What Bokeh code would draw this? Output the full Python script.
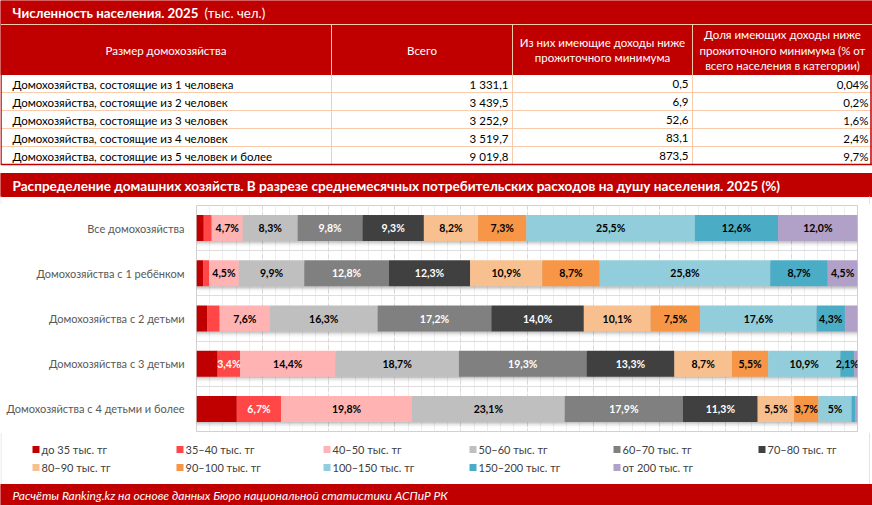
from bokeh.plotting import figure
from bokeh.layouts import column
from bokeh.models import (Range1d, FixedTicker, SingleIntervalTicker, Grid,
                          ColumnDataSource)
from bokeh.embed import file_html
from bokeh.resources import INLINE
from bokeh.core.properties import value

# ---------------- data ----------------
table_title = "Численность населения. 2025"
table_unit = "(тыс. чел.)"
table_headers = [
    ["Размер домохозяйства"],
    ["Всего"],
    ["Из них имеющие доходы ниже", "прожиточного минимума"],
    ["Доля имеющих доходы ниже", "прожиточного минимума (% от", "всего населения в категории)"],
]
household_sizes = [
    "Домохозяйства, состоящие из 1 человека",
    "Домохозяйства, состоящие из 2 человек",
    "Домохозяйства, состоящие из 3 человек",
    "Домохозяйства, состоящие из 4 человек",
    "Домохозяйства, состоящие из 5 человек и более",
]
population_total = [1331.1, 3439.5, 3252.9, 3519.7, 9019.8]
population_below_min = [0.5, 6.9, 52.6, 83.1, 873.5]
share_below_min = [0.04, 0.2, 1.6, 2.4, 9.7]

chart_title = ("Распределение домашних хозяйств. В разрезе среднемесячных "
               "потребительских расходов на душу населения. 2025 (%)")
household_groups = [
    "Все домохозяйства",
    "Домохозяйства с 1 ребёнком",
    "Домохозяйства с 2 детьми",
    "Домохозяйства с 3 детьми",
    "Домохозяйства с 4 детьми и более",
]
spending_brackets = [
    "до 35 тыс. тг", "35–40 тыс. тг", "40–50 тыс. тг", "50–60 тыс. тг",
    "60–70 тыс. тг", "70–80 тыс. тг", "80–90 тыс. тг", "90–100 тыс. тг",
    "100–150 тыс. тг", "150–200 тыс. тг", "от 200 тыс. тг",
]
# share of households (%) per bracket, one value per household group
up_to_35 = [1.1, 1.0, 1.6, 3.2, 6.1]
from_35_to_40 = [1.2, 0.9, 1.9, 3.4, 6.7]
from_40_to_50 = [4.7, 4.5, 7.6, 14.4, 19.8]
from_50_to_60 = [8.3, 9.9, 16.3, 18.7, 23.1]
from_60_to_70 = [9.8, 12.8, 17.2, 19.3, 17.9]
from_70_to_80 = [9.3, 12.3, 14.0, 13.3, 11.3]
from_80_to_90 = [8.2, 10.9, 10.1, 8.7, 5.5]
from_90_to_100 = [7.3, 8.7, 7.5, 5.5, 3.7]
from_100_to_150 = [25.5, 25.8, 17.6, 10.9, 5]
from_150_to_200 = [12.6, 8.7, 4.3, 2.1, 0.6]
over_200 = [12.0, 4.5, 1.9, 0.5, 0.3]
bracket_values = [up_to_35, from_35_to_40, from_40_to_50, from_50_to_60,
                  from_60_to_70, from_70_to_80, from_80_to_90, from_90_to_100,
                  from_100_to_150, from_150_to_200, over_200]

source_note = "Расчёты Ranking.kz на основе данных Бюро национальной статистики АСПиР РК"

# ---------------- styling ----------------
W = 872
RED = "#C00000"
PEACH = "#F8CBAD"
FONT = "Lato"
bracket_colors = ["#C00000", "#FF4747", "#FFB3B3", "#BFBFBF", "#808080",
                  "#404040", "#F9C08F", "#F79646", "#92CDDC", "#4BACC6", "#B1A0C7"]
white_label_brackets = {1, 4, 5}


def fmt_num(v):
    return f"{v:,.1f}".replace(",", " ").replace(".", ",")


def fmt_share(v):
    return f"{v:g}".replace(".", ",") + "%"


def fmt_pct(v):
    s = str(v) if isinstance(v, int) else f"{v:.1f}"
    return s.replace(".", ",") + "%"


def blank_figure(height):
    f = figure(width=W, height=height, x_range=Range1d(0, W),
               y_range=Range1d(height, 0), x_axis_type=None, y_axis_type=None,
               min_border=0, toolbar_location=None, output_backend="svg",
               outline_line_color=None, background_fill_color="white",
               border_fill_color="white", frame_align=False)
    f.grid.visible = False
    return f


# ---------------- top panel: population table ----------------
HA = 204
top = blank_figure(HA)
col_edges = [0, 331, 512, 692, W]
row_edges = [74, 92, 110, 128, 146, 164]

top.quad(left=0, right=W, top=0, bottom=24, color=RED)
top.quad(left=0, right=W, top=24, bottom=74, color=RED)
top.segment(x0=0, x1=W, y0=24, y1=24, color=PEACH, line_width=1)
top.text(x=12, y=12.5, text=[table_title], text_font=value(FONT),
         text_font_style="bold", text_font_size="13.3px", text_color="white",
         text_baseline="middle")
top.text(x=204, y=12.5, text=[table_unit], text_font=value(FONT),
         text_font_size="13.3px", text_color="white", text_baseline="middle")

# header cells
for c, lines in enumerate(table_headers):
    cx = (col_edges[c] + col_edges[c + 1]) / 2
    n = len(lines)
    ys = [49.5 + (k - (n - 1) / 2) * 15.8 for k in range(n)]
    top.text(x=[cx] * n, y=ys, text=lines, text_font=value(FONT),
             text_font_size="11.5px", text_color="white", text_align="center",
             text_baseline="middle")

# grid of the table
top.segment(x0=col_edges[1:4], x1=col_edges[1:4], y0=[24] * 3, y1=[164] * 3,
            color=PEACH, line_width=1)
top.segment(x0=[0] * 4, x1=[W] * 4, y0=row_edges[1:5], y1=row_edges[1:5],
            color=PEACH, line_width=1)
top.segment(x0=[0.5, W - 1.5, 0], x1=[0.5, W - 1.5, W], y0=[74, 74, 164],
            y1=[164, 164, 164], color=RED, line_width=1.5)

row_mid = [(row_edges[i] + row_edges[i + 1]) / 2 + 0.5 for i in range(5)]
top.text(x=[12] * 5, y=row_mid, text=household_sizes, text_font=value(FONT),
         text_font_size="11.5px", text_color="black", text_baseline="middle")
for c, (vals, f) in enumerate([(population_total, fmt_num),
                               (population_below_min, fmt_num),
                               (share_below_min, fmt_share)]):
    top.text(x=[col_edges[c + 2] - 4] * 5, y=row_mid, text=[f(v) for v in vals],
             text_font=value(FONT), text_font_size="11.5px", text_color="black",
             text_align="right", text_baseline="middle")

# chart section header
top.quad(left=0, right=W, top=173, bottom=196, color=RED)
top.text(x=12, y=185, text=[chart_title], text_font=value(FONT),
         text_font_style="bold", text_font_size="13.6px", text_color="white",
         text_baseline="middle")
# light frame of the chart block
top.segment(x0=[0.5, W - 3], x1=[0.5, W - 3], y0=[196, 196], y1=[HA, HA],
            color="#E4E4E4", line_width=1)

# ---------------- middle panel: stacked bars ----------------
n_groups = len(household_groups)
bar = figure(width=W, height=228, x_range=Range1d(0, 100),
             y_range=Range1d(n_groups - 0.5, -0.5), x_axis_type=None,
             min_border_left=196, min_border_right=15, min_border_top=1,
             min_border_bottom=1, toolbar_location=None, output_backend="svg",
             outline_line_color="#D0D0D0", background_fill_color="white",
             border_fill_color="white", frame_align=False)
bar.grid.visible = False
bar.add_layout(Grid(dimension=0, ticker=SingleIntervalTicker(interval=10, num_minor_ticks=5),
                    grid_line_color="#D9D9D9", grid_line_dash="4 3",
                    minor_grid_line_color="#EEEEEE"))
bar.add_layout(Grid(dimension=1, ticker=FixedTicker(
    ticks=list(range(n_groups)),
    minor_ticks=[i - 0.5 for i in range(n_groups + 1)]),
    grid_line_color=None, minor_grid_line_color="#DDDDDD"))

yax = bar.yaxis[0]
yax.ticker = FixedTicker(ticks=list(range(n_groups)))
yax.major_label_overrides = {i: g for i, g in enumerate(household_groups)}
yax.axis_line_color = None
yax.major_tick_line_color = None
yax.minor_tick_line_color = None
yax.major_tick_out = 0
yax.major_tick_in = 0
yax.minor_tick_out = 0
yax.major_label_standoff = 12
yax.major_label_text_font = FONT
yax.major_label_text_font_size = "11px"
yax.major_label_text_color = "#595959"

BAR_H = 0.575
idx = list(range(n_groups))
totals = [sum(bracket_values[j][i] for j in range(len(bracket_values))) for i in idx]

# soft drop shadow under each bar
for off, alpha in [(0.03, 0.10), (0.06, 0.07), (0.09, 0.04), (0.12, 0.02)]:
    bar.hbar(y=[i + off for i in idx], left=0, right=totals, height=BAR_H,
             color="black", alpha=alpha, line_color=None)

keys = [f"b{j}" for j in range(len(spending_brackets))]
src = ColumnDataSource(dict(y=idx, **{k: v for k, v in zip(keys, bracket_values)}))
bar.hbar_stack(keys, y="y", height=BAR_H, color=bracket_colors, line_color=None,
               source=src)

lx, ly, lt, lc = [], [], [], []
for i in idx:
    left = 0.0
    for j, vals in enumerate(bracket_values):
        v = vals[i]
        if j != 0 and v >= 2.0:
            lx.append(left + v / 2)
            ly.append(i)
            lt.append(fmt_pct(v))
            lc.append("white" if j in white_label_brackets else "black")
        left += v
bar.text(x=lx, y=ly, text=lt, text_color=lc, text_font=value(FONT),
         text_font_style="bold", text_font_size="10.5px", text_align="center",
         text_baseline="middle")

# ---------------- bottom panel: legend and source ----------------
HC = 73
bottom = blank_figure(HC)
leg_x = [32, 176, 323, 469, 613, 758]
lgx = [leg_x[k % 6] for k in range(len(spending_brackets))]
lgy = [17 if k < 6 else 35 for k in range(len(spending_brackets))]
bottom.rect(x=[x + 3.5 for x in lgx], y=lgy, width=7, height=7,
            color=bracket_colors, line_color=None)
bottom.text(x=[x + 9 for x in lgx], y=lgy, text=spending_brackets,
            text_font=value(FONT), text_font_size="11px", text_color="#404040",
            text_baseline="middle")
bottom.segment(x0=[0.5, W - 3], x1=[0.5, W - 3], y0=[0, 0], y1=[52, 52],
               color="#E4E4E4", line_width=1)
bottom.quad(left=0, right=W, top=52, bottom=HC, color=RED)
bottom.text(x=12, y=63, text=[source_note], text_font=value(FONT),
            text_font_style="italic", text_font_size="12px", text_color="white",
            text_baseline="middle")

layout = column(top, bar, bottom, spacing=0)
open("out.html", "w").write(file_html(layout, INLINE))
